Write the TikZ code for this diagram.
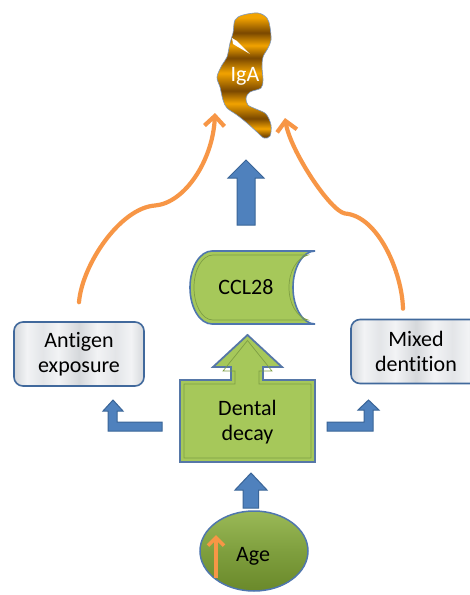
\documentclass[tikz,border=0pt]{standalone}
\usepackage{fontspec}
\setmainfont{Carlito}[Ligatures=NoCommon]
\usetikzlibrary{arrows.meta,shapes.geometric,calc}
\definecolor{arrowblue}{HTML}{4F81BD}
\definecolor{arrowedge}{HTML}{3A6598}
\definecolor{leafgreen}{HTML}{A6C85A}
\definecolor{bevelgreen}{HTML}{7E9E44}
\definecolor{shapeblue}{HTML}{4F76AE}
\definecolor{boxblue}{HTML}{41699C}
\definecolor{orangeC}{HTML}{F79646}
\definecolor{igaL}{HTML}{F2A300}
\definecolor{igaD}{HTML}{7A4800}
\definecolor{igaEdge}{HTML}{7D97BD}
\definecolor{mA}{HTML}{F2F3F5}
\definecolor{mB}{HTML}{D5D8DB}
\definecolor{mC}{HTML}{E3E5E8}
\definecolor{ageTop}{HTML}{9AB957}
\definecolor{ageMid}{HTML}{7F9F3E}
\definecolor{ageBot}{HTML}{6A892A}
\pgfdeclareverticalshading{igashade}{100bp}{color(0bp)=(igaD); color(26bp)=(igaD); color(29bp)=(igaL); color(33bp)=(igaD); color(39bp)=(igaL); color(44bp)=(igaD); color(51bp)=(igaL); color(57bp)=(igaD); color(62bp)=(igaL); color(67bp)=(igaD); color(73bp)=(igaL); color(100bp)=(igaL)}
\pgfdeclarehorizontalshading{marble}{100bp}{color(0bp)=(mB); color(25bp)=(mB); color(30bp)=(mA); color(36bp)=(mC); color(42bp)=(mA); color(50bp)=(mB); color(57bp)=(mA); color(64bp)=(mC); color(70bp)=(mA); color(75bp)=(mB); color(100bp)=(mB)}
\tikzset{
  txt/.style={font=\fontsize{22}{25}\selectfont, align=center, inner sep=0pt},
  marblebox/.style={draw=boxblue, line width=1.6pt, rounded corners=9pt, shading=marble,
    minimum width=130pt, minimum height=64pt, txt},
  blockarrow/.style={fill=arrowblue, draw=arrowedge, line width=1pt, line join=miter},
  greenshape/.style={fill=leafgreen, draw=shapeblue, line width=1.6pt},
  bevel/.style={draw=bevelgreen, line width=0.7pt},
  orangearrow/.style={draw=orangeC, line width=4.2pt, line cap=round,
    -{Straight Barb[length=10pt,width=20pt]}},
}
\begin{document}
\begin{tikzpicture}[x=1pt,y=-1pt]
\useasboundingbox (0,0) rectangle (470,595);
\fill[white] (0,0) rectangle (470,595);

% IgA blob
\path[shading=igashade, draw=igaEdge, line width=0.6pt]
  plot[smooth cycle, tension=0.55] coordinates {
  (235,20) (243,15) (258,13) (267,18) (270,27) (271,40) (268,48) (263,57) (262,67)
  (263,80) (261,88) (250,92) (246,98) (248,105) (256,109) (266,114) (271,125) (270,136)
  (264,138) (257,132) (247,123) (237,115) (227,108) (223,100) (220,87) (217,77)
  (222,65) (227,57) (230,43) (233,33)};
\fill[white] (232,38) -- (237,41) -- (250,54) -- (233,44) -- cycle;
\node[txt, text=white] (iga) at (245,76) {IgA};
\coordinate (igaL) at (215,113);
\coordinate (igaR) at (285,118);

% CCL28 shape
\path[greenshape] (212,251) -- (315,251)
  .. controls (302.85,251) and (293,267.3) .. (293,287.5)
  .. controls (293,307.7) and (302.85,324) .. (315,324)
  -- (212,324)
  .. controls (199.85,324) and (190,307.7) .. (190,287.5)
  .. controls (190,267.3) and (199.85,251) .. (212,251) -- cycle;
\draw[bevel] (213,255) -- (308,255)
  .. controls (297,258) and (289,271) .. (289,287.5)
  .. controls (289,304) and (297,317) .. (308,320)
  -- (213,320)
  .. controls (202,320) and (194,305) .. (194,287.5)
  .. controls (194,270) and (202,255) .. (213,255) -- cycle;
\node[txt] (ccl) at (246,287) {CCL28};

% main blue arrow CCL28 -> IgA
\path[blockarrow] (237,225) -- (237,178) -- (228,178) -- (246,160) -- (264,178) -- (255,178) -- (255,225) -- cycle;

% Dental decay shape
\path[greenshape, draw=shapeblue!85!gray, line width=1.8pt]
  (180,380) -- (231,380) -- (231,367) -- (213,367) -- (247.5,335) -- (282,367) -- (263,367)
  -- (263,380) -- (315,380) -- (315,462) -- (180,462) -- cycle;
\draw[bevel] (184,384) -- (235,384) -- (235,371) -- (223,371) -- (247.5,340.5) -- (272,371)
  -- (259,371) -- (259,384) -- (311,384) -- (311,458) -- (184,458) -- cycle;
\node[txt] (dec) at (247.5,422) {Dental\\decay};

% side boxes
\node[marblebox] (ant) at (79,354) {Antigen\\exposure};
\node[marblebox] (mix) at (416,351.5) {Mixed\\dentition};

% bent arrows
\path[blockarrow] (162,422) -- (117,422) -- (117,411) -- (123,411) -- (113,400) -- (103,411)
  -- (108,411) -- (108,431) -- (162,431) -- cycle;
\path[blockarrow] (327,422) -- (364,422) -- (364,410) -- (358,410) -- (368.5,400) -- (379,410)
  -- (373,410) -- (373,431) -- (327,431) -- cycle;

% Age
\node[ellipse, minimum width=108pt, minimum height=80pt, inner sep=0pt,
  top color=ageTop, bottom color=ageBot, middle color=ageMid,
  draw=shapeblue, line width=1.5pt] (age) at (254,551) {};
\node[txt] (agetxt) at (253,556) {Age};
\draw[draw=orangeC, line width=3.6pt, -{Straight Barb[length=8pt,width=16pt]}]
  (216,578) -- (216,535);

% small blue arrow Age -> Dental decay
\path[blockarrow] (243,508) -- (243,490) -- (235,490) -- (251,473) -- (267,490) -- (258.5,490) -- (258.5,508) -- cycle;

% orange curves
\draw[orangearrow] ([yshift=19pt]ant.north)
  .. controls (82,265) and (120,208) .. (155,205.5)
  .. controls (185,203) and (213,160) .. (igaL);
\draw[orangearrow] ([xshift=-13pt,yshift=10pt]mix.north)
  .. controls (402,272) and (378,216) .. (345,213.5)
  .. controls (330,211) and (290,150) .. (igaR);
\end{tikzpicture}
\end{document}
